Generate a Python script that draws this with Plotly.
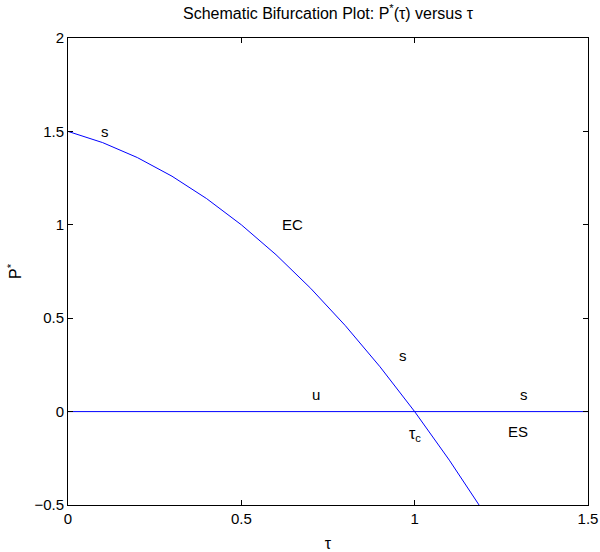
import plotly.graph_objects as go

# Equilibrium branch P*(tau) (EC branch), sampled every 0.1 in tau
tau_ec = [0.0, 0.1, 0.2, 0.3, 0.4, 0.5, 0.6, 0.7, 0.8, 0.9, 1.0, 1.1, 1.2]
p_ec = [1.5, 1.44, 1.36, 1.26, 1.14, 1.0, 0.84, 0.66, 0.46, 0.24, 0.0, -0.26, -0.54]

# Trivial branch P* = 0
tau_zero = [0.0, 1.5]
p_zero = [0.0, 0.0]

# Stability / branch annotations
label_text = ["s", "EC", "s", "u", "s", "ES"]
label_tau = [0.107, 0.648, 0.966, 0.715, 1.315, 1.299]
label_p = [1.50, 1.0, 0.30, 0.09, 0.09, -0.107]

x_ticks = [0, 0.5, 1, 1.5]
y_ticks = [-0.5, 0, 0.5, 1, 1.5, 2]

FONT = "Liberation Sans, Arial, Helvetica, sans-serif"
BLUE = "rgb(0,0,255)"

fig = go.Figure()
fig.add_trace(go.Scatter(x=tau_ec, y=p_ec, mode="lines",
                         line=dict(color=BLUE, width=1), hoverinfo="skip"))
fig.add_trace(go.Scatter(x=tau_zero, y=p_zero, mode="lines",
                         line=dict(color=BLUE, width=1), hoverinfo="skip"))

for t, x, y in zip(label_text, label_tau, label_p):
    fig.add_annotation(x=x, y=y, text=t, showarrow=False,
                       font=dict(family=FONT, size=15, color="black"))

# Critical value tau_c
fig.add_annotation(x=1.0, y=-0.125, text="τ<sub>c</sub>", showarrow=False,
                   font=dict(family=FONT, size=16, color="black"))

axis_common = dict(
    showgrid=False, zeroline=False, showline=True, linecolor="black",
    linewidth=1, mirror="ticks", ticks="inside", ticklen=5,
    tickcolor="black", tickfont=dict(family=FONT, size=15, color="black"),
    automargin=False,
)

fig.update_layout(
    width=600, height=552,
    margin=dict(l=68, r=12, t=38, b=47),
    paper_bgcolor="white", plot_bgcolor="white",
    showlegend=False,
    title=dict(text="Schematic Bifurcation Plot: P<sup>*</sup>(τ) versus τ",
               x=328 / 600, xanchor="center", y=1 - 13 / 552, yanchor="middle",
               font=dict(family=FONT, size=16, color="black")),
    xaxis=dict(range=[0, 1.5], tickvals=x_ticks, ticktext=[str(v) for v in x_ticks],
               title=dict(text="τ", font=dict(family=FONT, size=16, color="black"),
                          standoff=12),
               **axis_common),
    yaxis=dict(range=[-0.5, 2], tickvals=y_ticks,
               ticktext=["\u22120.5", "0", "0.5", "1", "1.5", "2"],
               title=dict(text="P<sup>*</sup>", font=dict(family=FONT, size=16, color="black"),
                          standoff=8),
               **axis_common),
)

fig.write_html("out.html")
